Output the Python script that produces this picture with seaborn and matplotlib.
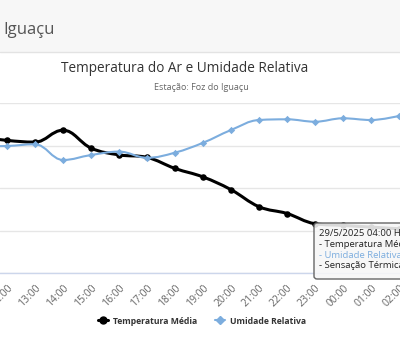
import matplotlib
matplotlib.use("Agg")
import matplotlib.pyplot as plt
from matplotlib.path import Path
from matplotlib.patches import PathPatch, Rectangle, FancyBboxPatch
from matplotlib.lines import Line2D
import pandas as pd
import seaborn as sns

# Hourly readings, station Foz do Iguaçu
horas = ["11:00", "12:00", "13:00", "14:00", "15:00", "16:00", "17:00", "18:00",
         "19:00", "20:00", "21:00", "22:00", "23:00", "00:00", "01:00", "02:00"]
temperatura_media = [26.0, 25.6, 25.4, 26.8, 24.7, 23.9, 23.6, 22.3,
                     21.3, 19.8, 17.8, 17.0, 15.8, 15.6, 15.4, 15.2]
umidade_relativa = [74.4, 74.7, 75.7, 66.5, 69.4, 71.4, 67.8, 70.8,
                    76.6, 84.1, 90.0, 90.4, 89.0, 91.0, 90.0, 92.4]
posicoes = list(range(-1, len(horas) - 1))

titulo = "Temperatura do Ar e Umidade Relativa"
subtitulo = "Estação: Foz do Iguaçu"
cabecalho = "Iguaçu"
tooltip_linhas = ["29/5/2025 04:00 H", "- Temperatura Média", "- Umidade Relativa", "- Sensação Térmica"]

COR_TEMP = "#000000"
COR_UMID = "#7cadde"
W, H = 400, 346

sns.set_theme(style="white")
plt.rcParams["font.family"] = ["Open Sans", "DejaVu Sans"]

df = pd.DataFrame({"pos": posicoes, "hora": horas,
                   "temp": temperatura_media, "umid": umidade_relativa})


def fx(x):
    return x / W


def fy(y):
    return 1 - y / H


def spline_path(xs, ys, smoothing=1.5):
    """Cubic Bezier path through the points (Highcharts-style spline)."""
    n = len(xs)
    lc = [None] * n
    rc = [None] * n
    d = smoothing + 1
    for i in range(1, n - 1):
        px, py = xs[i], ys[i]
        lx, ly = xs[i - 1], ys[i - 1]
        nx, ny = xs[i + 1], ys[i + 1]
        lcx = (smoothing * px + lx) / d
        lcy = (smoothing * py + ly) / d
        rcx = (smoothing * px + nx) / d
        rcy = (smoothing * py + ny) / d
        if rcx != lcx:
            corr = ((rcy - lcy) * (rcx - px)) / (rcx - lcx) + py - rcy
            lcy += corr
            rcy += corr
        if lcy > max(ly, py):
            lcy = max(ly, py); rcy = 2 * py - lcy
        elif lcy < min(ly, py):
            lcy = min(ly, py); rcy = 2 * py - lcy
        if rcy > max(py, ny):
            rcy = max(py, ny); lcy = 2 * py - rcy
        elif rcy < min(py, ny):
            rcy = min(py, ny); lcy = 2 * py - rcy
        lc[i] = (lcx, lcy)
        rc[i] = (rcx, rcy)
    verts = [(xs[0], ys[0])]
    codes = [Path.MOVETO]
    for i in range(1, n):
        c1 = rc[i - 1] if rc[i - 1] is not None else (xs[i - 1], ys[i - 1])
        c2 = lc[i] if lc[i] is not None else (xs[i], ys[i])
        verts += [c1, c2, (xs[i], ys[i])]
        codes += [Path.CURVE4] * 3
    return Path(verts, codes)


fig = plt.figure(figsize=(W / 100, H / 100), dpi=100)
fig.patch.set_facecolor("white")

# page header strip
fig.add_artist(Rectangle((0, fy(52)), 1, 52 / H, transform=fig.transFigure,
                         facecolor="#f7f7f7", edgecolor="none", zorder=0))
fig.add_artist(Line2D([0, 1], [fy(52), fy(52)], transform=fig.transFigure,
                      color="#e3e3e3", lw=1))
fig.text(fx(3), fy(30), cabecalho, fontsize=12, color="#555555", va="center", ha="left")

fig.text(fx(184.5), fy(68), titulo, fontsize=9.8, color="#333333", ha="center", va="center")
fig.text(fx(201), fy(88), subtitulo, fontsize=6.5, color="#666666", ha="center", va="center")

# plot area (wider than what is shown on screen)
ax = fig.add_axes([0, fy(273), 1, (273 - 103) / H])
ax.set_facecolor("none")
ax2 = ax.twinx()
ax2.set_facecolor("none")

# temperature series
ax.add_patch(PathPatch(spline_path(df["pos"].tolist(), df["temp"].tolist()),
                       fill=False, edgecolor=COR_TEMP, lw=2.2, capstyle="round",
                       joinstyle="round", zorder=3))
sns.scatterplot(data=df, x="pos", y="temp", ax=ax, color=COR_TEMP, marker="o",
                s=22, edgecolor=COR_TEMP, linewidth=0, zorder=4, legend=False)

# humidity series
ax2.add_patch(PathPatch(spline_path(df["pos"].tolist(), df["umid"].tolist()),
                        fill=False, edgecolor=COR_UMID, lw=1.5, zorder=3))
sns.scatterplot(data=df, x="pos", y="umid", ax=ax2, color=COR_UMID, marker="D",
                s=14, edgecolor=COR_UMID, linewidth=0, zorder=4, legend=False)

ax.set_xticks(df["pos"])
ax.set_xticklabels(df["hora"], rotation=45, ha="right", rotation_mode="anchor",
                   fontsize=7.5, color="#666666")
ax.tick_params(axis="x", length=0, pad=7)

x0 = -7 / 28
ax.set_xlim(x0, x0 + W / 28)
ax.set_ylim(10, 30)
ax.set_yticks([10, 15, 20, 25, 30])
ax2.set_ylim(0, 100)
ax2.set_yticks([0, 25, 50, 75, 100])
ax.grid(axis="y", color="#e6e6e6", lw=1)
ax.grid(axis="x", visible=False)
ax2.grid(False)
for a in (ax, ax2):
    for s in ("top", "left", "right", "bottom"):
        a.spines[s].set_visible(False)
ax.spines["bottom"].set_visible(True)
ax.spines["bottom"].set_color("#ccd6eb")
ax.spines["bottom"].set_linewidth(1)
ax.tick_params(axis="y", left=False, labelleft=False)
ax2.tick_params(axis="y", right=False, labelright=False)
ax2.tick_params(axis="x", bottom=False, labelbottom=False)
ax.set_xlabel("")
ax.set_ylabel("")
ax2.set_ylabel("")

handles = [
    Line2D([], [], color=COR_TEMP, lw=2.2, marker="o", markersize=5),
    Line2D([], [], color=COR_UMID, lw=1.5, marker="D", markersize=4),
]
leg = fig.legend(handles, ["Temperatura Média", "Umidade Relativa"], loc="center",
                 bbox_to_anchor=(fx(202), fy(321)), ncol=2, frameon=False,
                 handlelength=1.2, handletextpad=0.6, columnspacing=2.0,
                 prop={"size": 6.2, "weight": "bold"})
for t in leg.get_texts():
    t.set_color("#333333")

# hover tooltip box
tip = FancyBboxPatch((fx(314), fy(279)), fx(120), (279 - 223) / H,
                     boxstyle="round,pad=0,rounding_size=0.008",
                     transform=fig.transFigure, facecolor=(0.97, 0.97, 0.97, 0.88),
                     edgecolor="#666666", lw=1, zorder=10)
fig.add_artist(tip)
cores = ["#222222", "#222222", COR_UMID, "#222222"]
ys_tip = [234, 244.5, 255, 265.5]
for txt, cor, yy in zip(tooltip_linhas, cores, ys_tip):
    fig.text(fx(319), fy(yy), txt, fontsize=6.8, color=cor, ha="left", va="center",
             zorder=11)

fig.savefig("out.png", dpi=100)
